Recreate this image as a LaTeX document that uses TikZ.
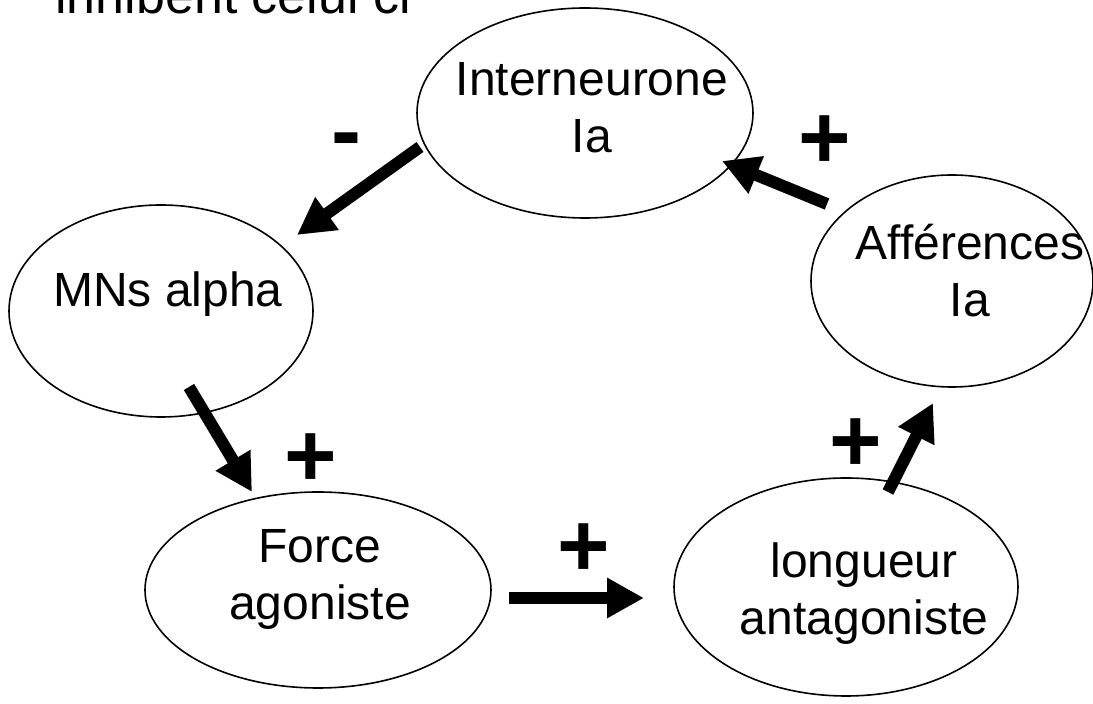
\documentclass[tikz,border=0pt]{standalone}
\usepackage{fontspec}
\setmainfont{Liberation Sans}
\usetikzlibrary{shapes.geometric,arrows.meta,calc}

\begin{document}
\begin{tikzpicture}[x=0.5pt,y=-0.5pt,
        bulle/.style={draw, ellipse, line width=0.8pt, inner sep=0pt},
        texte/.style={anchor=base, align=center, font=\fontsize{24}{28.5}\selectfont},
        signe/.style={anchor=base, inner sep=0pt, font=\fontsize{45}{50}\selectfont\bfseries},
        fleche/.style={line width=6pt, -{Triangle[length=18.5pt,width=19pt]}}]
        \useasboundingbox (0,0) rectangle (1093,704);

        % Titre (coupe en haut)
        \node[anchor=base west, inner sep=0pt, font=\fontsize{26}{30}\selectfont] (titre) at (55,14) {inhibent celui ci};

        % Boucle
        \node[bulle, minimum width=168pt, minimum height=105pt] (inter) at (585,113) {};
        \node[texte] (intertxt) at (592,153) {Interneurone\\Ia};

        \node[bulle, minimum width=152pt, minimum height=106pt] (mns) at (161,311) {};
        \node[texte] (mnstxt) at (168,307) {MNs alpha};

        \node[bulle, minimum width=173pt, minimum height=98pt] (force) at (318,590) {};
        \node[texte] (forcetxt) at (320,620) {Force\\agoniste};

        \node[bulle, minimum width=172pt, minimum height=109pt] (longueur) at (846,587) {};
        \node[texte] (longueurtxt) at (864,635) {longueur\\antagoniste};

        \node[bulle, minimum width=141pt, minimum height=106pt] (aff) at (952,281) {};
        \node[texte] (afftxt) at (970,317) {Afférences\\Ia};

        % Fleches
        \draw[fleche] ($(inter)+(-165,34)$) -- ($(mns)+(136,-76)$);
        \draw[fleche] ($(mns)+(28,76)$) -- ($(force)+(-66,-98)$);
        \draw[fleche] ($(force)+(191,8)$) -- ($(longueur)+(-202,11)$);
        \draw[fleche] ($(longueur)+(42,-95)$) -- ($(aff)+(-19,122)$);
        \draw[fleche] ($(aff)+(-125,-77)$) -- ($(inter)+(137,48)$);

        % Signes
        \node[signe] (moins) at (346,162) {-};
        \node[signe] (plusinter) at (825,169) {+};
        \node[signe] (plusforce) at (311,487) {+};
        \node[signe] (plusbas) at (584,577) {+};
        \node[signe] (pluslong) at (856,472) {+};
    \end{tikzpicture}
\end{document}
